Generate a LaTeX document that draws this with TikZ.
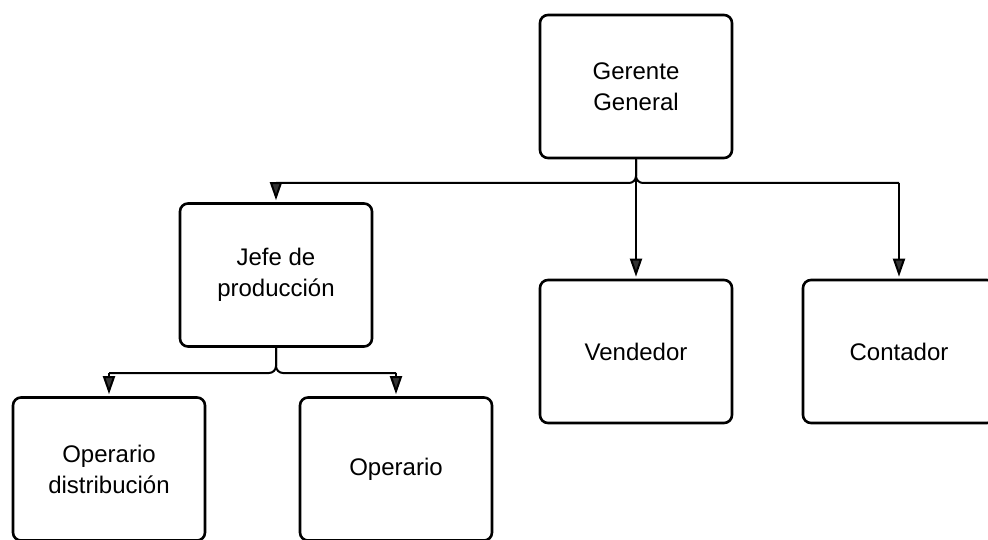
\documentclass[tikz,border=0pt]{standalone}
\usepackage{fontspec}
\setmainfont{Liberation Sans}
\usetikzlibrary{arrows.meta}
\begin{document}
\begin{tikzpicture}[x=1pt,y=-1pt,
  box/.style={draw=black, line width=2.6pt, rounded corners=8pt, minimum width=192pt, minimum height=143pt, align=center, font=\fontsize{24}{31}\selectfont, inner sep=0pt},
  conn/.style={draw=black, line width=2pt},
  arr/.style={conn, -{Triangle[width=12pt,length=18pt,fill=black!80]}, shorten >=2pt},
  elbow/.style={conn, rounded corners=7pt}]
\useasboundingbox (0,0) rectangle (988,540);
\node[box] (gg) at (636,86.5) {Gerente\\General};
\node[box] (jefe) at (276,275) {Jefe de\\producción};
\node[box] (vend) at (636,351.5) {Vendedor};
\node[box] (cont) at (899,351.5) {Contador};
\node[box] (opd) at (109,469) {Operario\\distribución};
\node[box] (op) at (396,469) {Operario};
\coordinate (busL) at (276,183);
\coordinate (busR) at (899,183);
\coordinate (subL) at (109,373);
\coordinate (subR) at (396,373);
\draw[elbow] (gg.south) |- (busL);
\draw[elbow] (gg.south) |- (busR);
\draw[arr] (gg.south) -- (vend.north);
\draw[arr] (busL) -- (jefe.north);
\draw[arr] (busR) -- (cont.north);
\draw[elbow] (jefe.south) |- (subL);
\draw[elbow] (jefe.south) |- (subR);
\draw[arr] (subL) -- (opd.north);
\draw[arr] (subR) -- (op.north);
\end{tikzpicture}
\end{document}
